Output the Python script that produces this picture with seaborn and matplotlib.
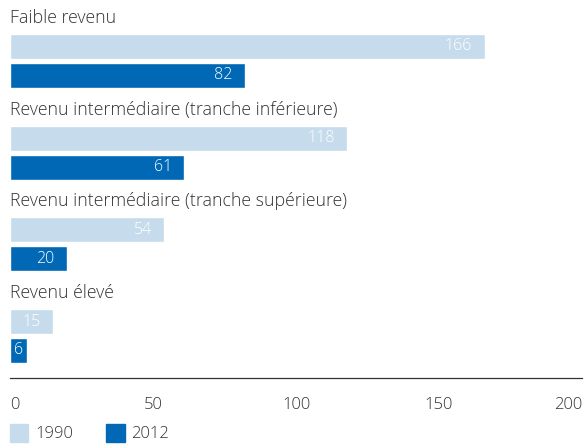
import matplotlib
matplotlib.use("Agg")
import matplotlib.pyplot as plt
from matplotlib.patches import Patch
import seaborn as sns
import pandas as pd

# data
categories = [
    "Faible revenu",
    "Revenu intermédiaire (tranche inférieure)",
    "Revenu intermédiaire (tranche supérieure)",
    "Revenu élevé",
]
years = ["1990", "2012"]
values_1990 = [166, 118, 54, 15]
values_2012 = [82, 61, 20, 6]
x_ticks = [0, 50, 100, 150, 200]

light = "#c6dcec"
dark = "#0068b4"
text_col = "#333333"

df = pd.DataFrame({
    "cat": categories * 2,
    "year": [years[0]] * 4 + [years[1]] * 4,
    "value": values_1990 + values_2012,
})

sns.set_style("white")
plt.rcParams["font.family"] = ["Open Sans", "DejaVu Sans"]
plt.rcParams["font.weight"] = "light"

fig = plt.figure(figsize=(5.88, 4.46), dpi=100)
ax = fig.add_axes([10 / 588, 1 - 378 / 446, 572 / 588, 378 / 446])

sns.barplot(data=df, x="value", y="cat", hue="year", orient="h",
            palette=[light, dark], width=0.632, gap=0.138,
            saturation=1, legend=False, ax=ax)

# value labels inside the bars
for cont in ax.containers:
    for bar in cont:
        w = bar.get_width()
        yc = bar.get_y() + bar.get_height() / 2
        if w < 10:
            ax.text(w / 2, yc, f"{w:.0f}", ha="center", va="center",
                    color="white", fontsize=11.5)
        else:
            ax.annotate(f"{w:.0f}", (w, yc), xytext=(-9, 0),
                        textcoords="offset points", ha="right", va="center",
                        color="white", fontsize=11.5)

# category labels above each group
for i, c in enumerate(categories):
    ax.text(0, i - 0.47, c, ha="left", va="center", fontsize=12.8,
            color=text_col)

ax.set_xlim(0, 200)
ax.set_ylim(3.458, -0.665)
ax.set_xticks(x_ticks)
ax.set_xticklabels([str(t) for t in x_ticks])
labels = ax.get_xticklabels()
labels[0].set_ha("left")
labels[-1].set_ha("right")
ax.set_yticks([])
ax.set_xlabel("")
ax.set_ylabel("")
for s in ["top", "right", "left"]:
    ax.spines[s].set_visible(False)
ax.spines["bottom"].set_color(text_col)
ax.spines["bottom"].set_linewidth(0.9)
ax.tick_params(axis="x", direction="out", length=6, width=0.9,
               color=text_col, labelcolor=text_col, labelsize=12, pad=8)

handles = [Patch(color=light, label=years[0]), Patch(color=dark, label=years[1])]
fig.legend(handles=handles, loc="lower left", bbox_to_anchor=(0.0, -0.014),
           ncol=2, frameon=False, fontsize=12, handlelength=1.1,
           handleheight=1.3, handletextpad=0.4, columnspacing=2.0,
           labelcolor=text_col, borderaxespad=0.2)

fig.savefig("out.png", dpi=100)
